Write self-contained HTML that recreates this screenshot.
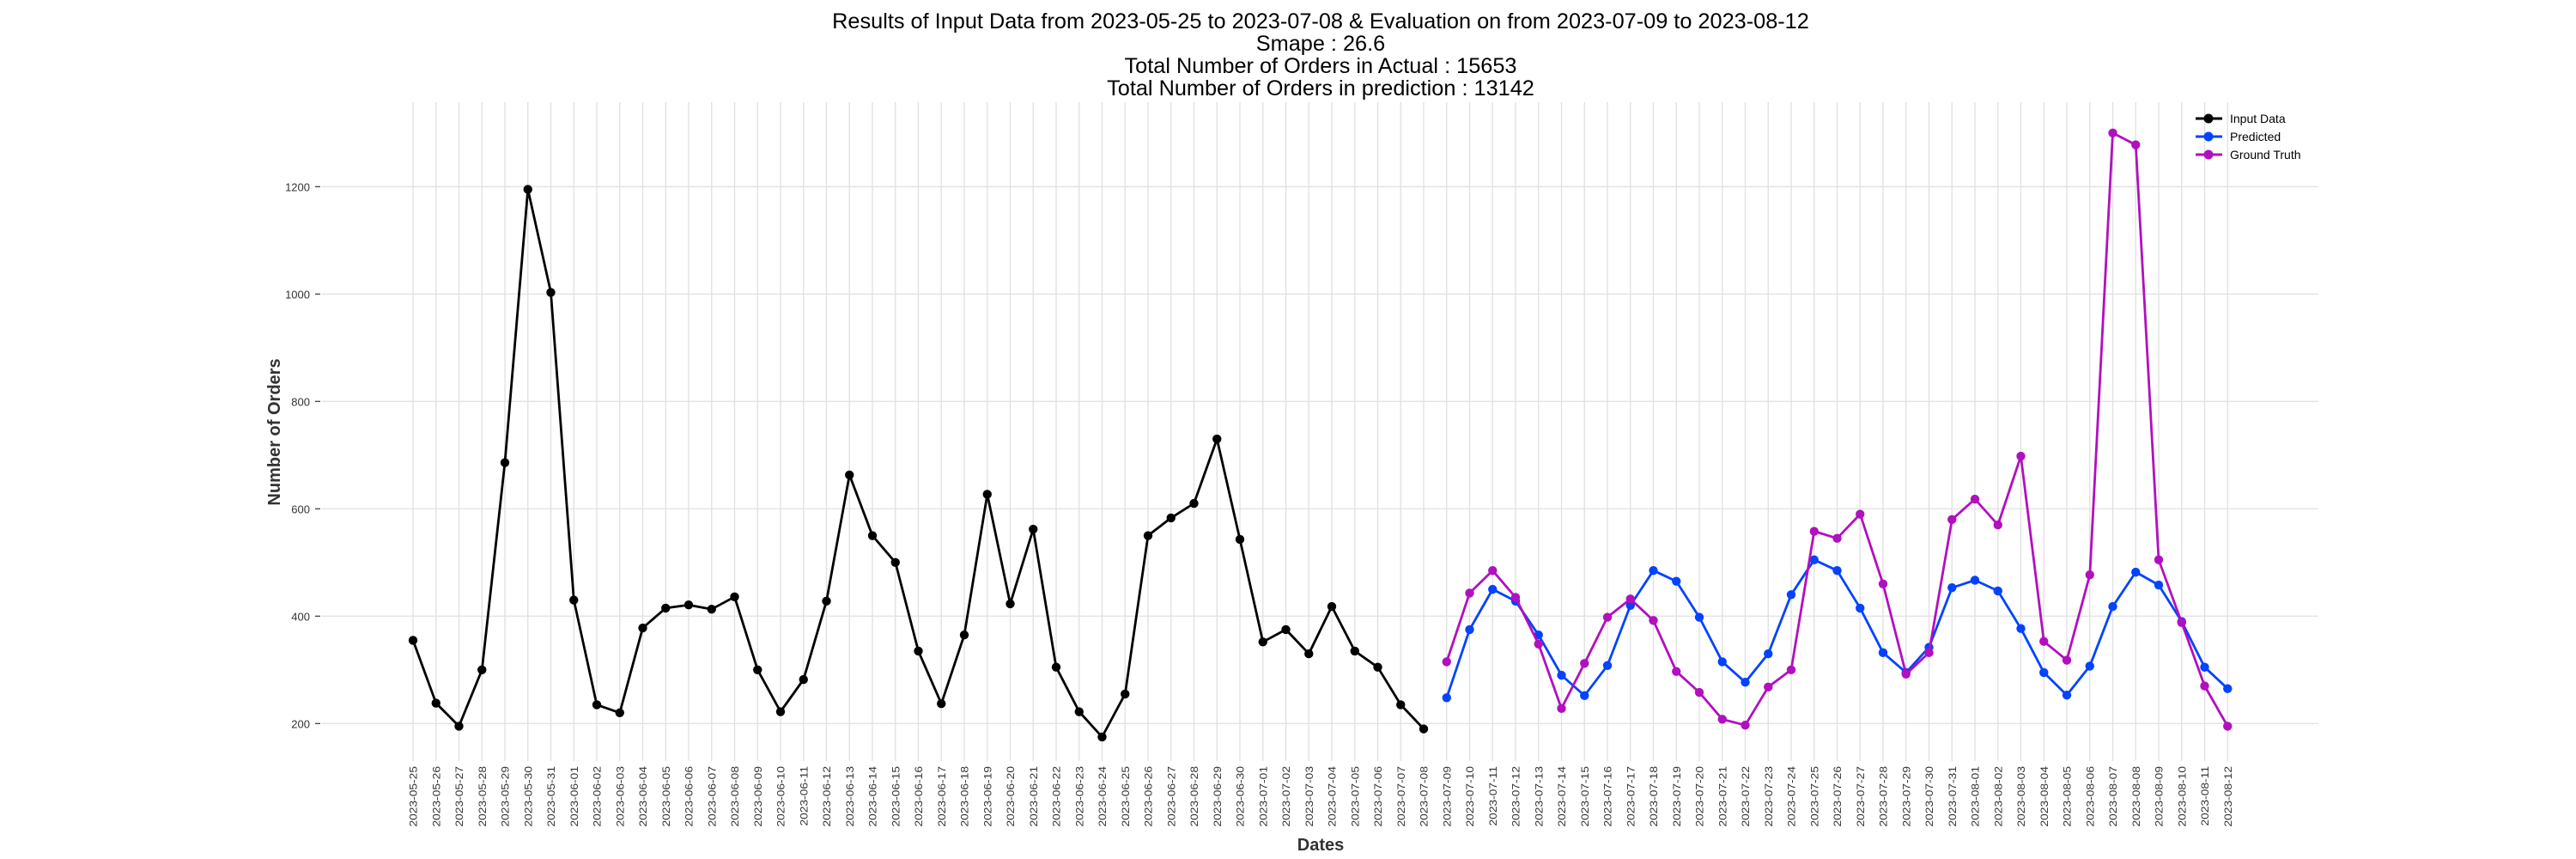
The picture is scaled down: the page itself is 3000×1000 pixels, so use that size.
<!DOCTYPE html>
<html><head><meta charset="utf-8">
<style>
body{margin:0;background:#fff;}
svg{display:block;font-family:"Liberation Sans","DejaVu Sans",sans-serif;}
</style></head>
<body>
<svg id="chart" width="3000" height="1000" viewBox="0 0 3000 1000" xmlns="http://www.w3.org/2000/svg">
<rect width="3000" height="1000" fill="#fff"/>
<g font-size="25.3" text-anchor="middle" fill="#000">
<text x="1538" y="33">Results of Input Data from 2023-05-25 to 2023-07-08 &amp; Evaluation on from 2023-07-09 to 2023-08-12</text>
<text x="1538" y="59">Smape : 26.6</text>
<text x="1538" y="85">Total Number of Orders in Actual : 15653</text>
<text x="1538" y="111">Total Number of Orders in prediction : 13142</text>
</g>
<g id="grid"></g>
<g id="yaxis"></g>
<g id="xaxis"></g>
<g id="series"></g>
<text x="0" y="0" transform="translate(326,503) rotate(-90)" text-anchor="middle" font-size="20" font-weight="bold" fill="#333">Number of Orders</text>
<text x="1538" y="990" text-anchor="middle" font-size="20" font-weight="bold" fill="#333">Dates</text>
<g id="legend"></g>
</svg>
<script>
const inputValues = [355,238,195,300,686,1195,1003,430,235,220,378,415,421,413,436,300,222,282,428,663,550,500,335,237,365,627,423,562,305,222,175,255,550,583,610,730,543,352,375,330,418,335,305,235,190];
const predictedValues = [248,375,450,428,365,290,252,308,420,485,465,398,315,277,330,440,505,485,415,332,295,342,453,467,447,377,295,253,307,418,482,458,390,305,265];
const truthValues = [315,443,485,435,348,228,312,398,432,392,297,258,208,197,268,300,558,545,590,460,292,332,580,618,570,698,353,318,477,1300,1278,505,388,270,195];
const yTicks = [200,400,600,800,1000,1200];
const seriesNames = ["Input Data","Predicted","Ground Truth"];
const seriesColors = ["#000000","#0343ff","#b20fbf"];

const NS="http://www.w3.org/2000/svg";
const start = new Date(Date.UTC(2023,4,25));
const nDays = inputValues.length + predictedValues.length;
const dates=[];
for(let i=0;i<nDays;i++){const d=new Date(start.getTime()+i*86400000);dates.push(d.toISOString().slice(0,10));}
const X0=481, DX=26.75, PL=375, PR=2700, PT=119, PB=886;
const xS=i=>X0+i*DX;
const yS=v=>217.3+(1200-v)*0.625;
function mk(tag,attrs,parent){const e=document.createElementNS(NS,tag);for(const k in attrs)e.setAttribute(k,attrs[k]);parent.appendChild(e);return e;}
const grid=document.getElementById('grid'),ya=document.getElementById('yaxis'),xa=document.getElementById('xaxis'),ser=document.getElementById('series'),leg=document.getElementById('legend');
yTicks.forEach(t=>{
  const l=mk('line',{x1:PL,x2:PR,y1:yS(t),y2:yS(t),stroke:'#e3e3e3','stroke-width':1.3},grid);
  
  
  mk('line',{x1:PL-8,x2:PL-2,y1:yS(t),y2:yS(t),stroke:'#333','stroke-width':1.2},ya);
  const tx=mk('text',{x:PL-14,y:yS(t)+5,'text-anchor':'end','font-size':13,fill:'#333'},ya);
  tx.textContent=t;
  
  
});
dates.forEach((d,i)=>{
  const l=mk('line',{x1:xS(i),x2:xS(i),y1:PT,y2:PB,stroke:'#e0e0e0','stroke-width':1.3},grid);
  
  
  const tx=mk('text',{x:0,y:0,transform:`translate(${xS(i)+4.5},${PB+6}) rotate(-90) scale(1.15,1)`,'text-anchor':'end','font-size':12,fill:'#333'},xa);
  tx.textContent=d;
  
  
});
function draw(vals,off,color,name){
  const g=mk('g',{},ser);
  
  
  const pts=vals.map((v,i)=>xS(i+off).toFixed(1)+','+yS(v).toFixed(1)).join(' ');
  mk('polyline',{points:pts,fill:'none',stroke:color,'stroke-width':2.8,'stroke-linejoin':'round'},g);
  vals.forEach((v,i)=>{
    const c=mk('circle',{cx:xS(i+off),cy:yS(v),r:5.2,fill:color},g);
    
    
  });
}
draw(inputValues,0,seriesColors[0],'input-data-series');
draw(predictedValues,inputValues.length,seriesColors[1],'predicted-series');
draw(truthValues,inputValues.length,seriesColors[2],'ground-truth-series');
seriesNames.forEach((n,i)=>{
  const y=138+i*21;
  const g=mk('g',{},leg);
  
  
  mk('line',{x1:2557,x2:2588,y1:y,y2:y,stroke:seriesColors[i],'stroke-width':3},g);
  mk('circle',{cx:2572,cy:y,r:5.5,fill:seriesColors[i]},g);
  const t=mk('text',{x:2597,y:y+5,'font-size':14,fill:'#000'},g);
  t.textContent=n;
});
</script>
</body></html>
